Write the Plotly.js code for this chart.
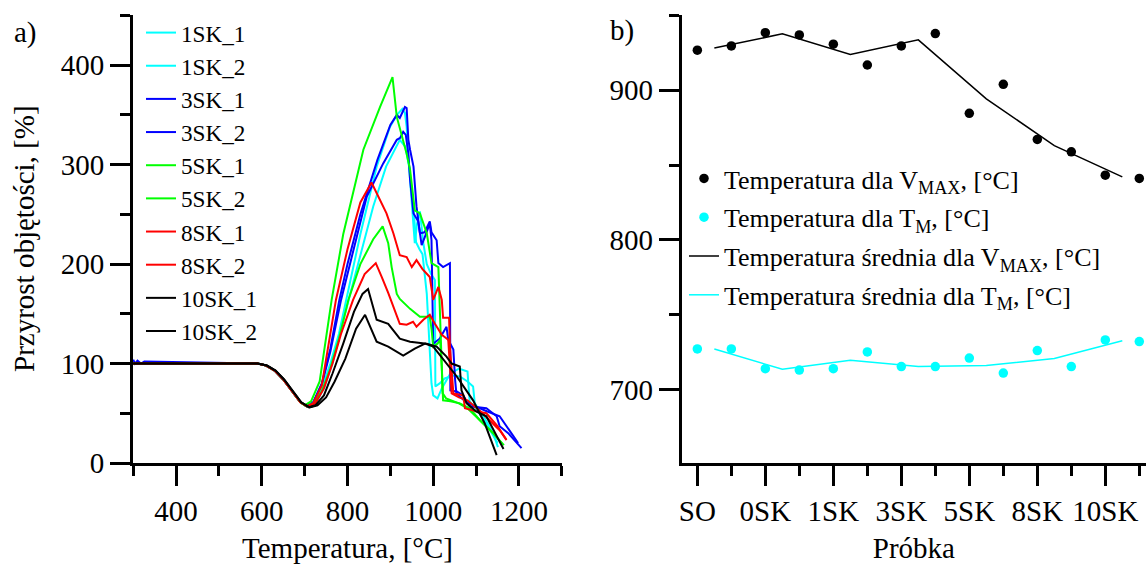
<!DOCTYPE html>
<html>
<head>
<meta charset="utf-8">
<script src="https://cdn.plot.ly/plotly-3.0.1.min.js"></script>
<style>html,body{margin:0;padding:0;background:#fff}</style>
</head>
<body>
<div id="chart" style="width:1146px;height:564px"></div>
<script>
// ---- a) volume growth vs temperature ----
const temp_1SK_1 = [300,590,610,630,650,670,690,705,720,740,760,780,800,830,868,899,915,928,934,938,942,950,957,962,969,977,985,995,1004,1005,1015,1027,1045,1062,1080,1093,1097,1120,1140,1151];
const grow_1SK_1 = [100,100,98,93,84,72,61,57,60,75,100,130,170,230,298,338,350,356,352,338,308,264,221,240,253,221,200,190,184,77,80,85,88,87,82,77,60,45,30,16];
const temp_1SK_2 = [300,590,610,630,650,670,690,708,725,745,765,785,800,830,860,890,922,935,945,955,960,968,975,985,992,996,1000,1010,1020,1040,1060,1080,1085,1100,1130,1150];
const grow_1SK_2 = [100,100,98,93,84,72,61,57,60,75,100,135,160,210,258,298,325,318,295,250,222,215,210,170,120,80,68,65,75,90,95,92,62,55,35,20];
const temp_3SK_1 = [300,304,310,318,326,590,610,630,650,670,690,705,720,740,760,781,800,830,870,900,915,922,928,934,938,942,946,954,961,969,980,992,996,1002,1008,1012,1023,1039,1040,1055,1070,1085,1105,1124,1148,1155,1175,1206];
const grow_3SK_1 = [104,100,103,100,102,100,98,93,84,72,61,57,61,80,115,164,200,250,305,340,350,347,352,358,357,325,315,298,258,231,232,243,232,228,224,201,197,201,73,72,68,57,56,55,47,37,30,15];
const temp_3SK_2 = [300,590,610,630,650,670,690,705,720,740,760,785,815,845,883,915,923,930,936,942,946,954,965,973,981,992,996,1000,1015,1031,1035,1047,1051,1054,1075,1093,1125,1155,1187,1198];
const grow_3SK_2 = [100,100,98,93,84,72,61,57,61,79,112,164,215,268,301,325,327,333,330,311,285,251,243,219,228,241,224,120,125,137,124,114,84,70,62,58,52,47,27,20];
const temp_5SK_1 = [300,590,610,630,650,670,690,700,715,735,763,790,810,837,876,895,905,915,930,938,946,957,969,985,996,1004,1012,1015,1018,1022,1030,1060,1080,1110,1140,1160];
const grow_5SK_1 = [100,100,98,93,84,72,61,58,62,82,164,230,265,315,358,378,388,348,325,311,295,254,251,231,201,199,197,160,110,70,65,60,55,43,30,20];
const temp_5SK_2 = [300,590,610,630,650,670,690,705,720,740,760,780,802,830,860,882,895,903,915,922,946,969,992,996,1000,1010,1016,1020,1023,1040,1062,1085,1109,1135,1155,1165];
const grow_5SK_2 = [100,100,98,93,84,72,61,57,60,72,95,125,164,200,225,238,221,197,170,165,155,147,147,135,117,120,124,97,63,62,60,55,43,32,23,18];
const temp_8SK_1 = [300,590,610,630,650,670,690,705,720,740,760,773,800,830,856,872,891,907,922,938,950,961,975,992,1000,1012,1020,1023,1037,1039,1047,1070,1074,1100,1124,1150,1171];
const grow_8SK_1 = [100,100,98,93,84,72,61,57,60,78,130,164,215,262,282,268,251,231,209,207,197,204,195,187,164,177,164,146,146,117,70,68,55,52,50,37,23];
const temp_8SK_2 = [300,590,610,630,650,670,690,708,725,745,765,785,813,840,866,880,895,922,938,953,961,977,992,1004,1020,1035,1039,1043,1060,1080,1110,1140,1155,1170];
const grow_8SK_2 = [100,100,98,93,84,72,61,57,60,75,100,130,164,190,201,187,171,140,139,142,137,144,149,140,129,124,97,70,66,63,52,40,33,24];
const temp_10SK_1 = [300,590,612,632,652,672,692,710,725,745,765,790,815,835,848,868,895,922,946,985,1008,1031,1043,1062,1066,1078,1100,1124,1145,1164];
const grow_10SK_1 = [100,100,98,93,84,72,61,56,58,68,90,120,152,170,175,144,140,125,122,120,117,107,100,97,73,60,52,47,30,14];
const temp_10SK_2 = [300,590,612,632,652,672,692,712,730,750,770,795,820,841,868,895,930,957,981,1000,1023,1055,1093,1120,1148];
const grow_10SK_2 = [100,100,98,93,84,72,61,56,58,66,82,105,135,149,122,117,108,115,120,117,104,87,63,40,8];

const curveNames = ['1SK_1','1SK_2','3SK_1','3SK_2','5SK_1','5SK_2','8SK_1','8SK_2','10SK_1','10SK_2'];
const curveTemps = [temp_1SK_1,temp_1SK_2,temp_3SK_1,temp_3SK_2,temp_5SK_1,temp_5SK_2,temp_8SK_1,temp_8SK_2,temp_10SK_1,temp_10SK_2];
const curveGrowth = [grow_1SK_1,grow_1SK_2,grow_3SK_1,grow_3SK_2,grow_5SK_1,grow_5SK_2,grow_8SK_1,grow_8SK_2,grow_10SK_1,grow_10SK_2];
const curveColors = ['#00FFFF','#00FFFF','#0000FF','#0000FF','#00FF00','#00FF00','#FF0000','#FF0000','#000000','#000000'];

// ---- b) characteristic temperatures per sample (two measurements each) ----
const sampleLabels = ['SO','0SK','1SK','3SK','5SK','8SK','10SK'];
const sampleTickPos = [1,3,5,7,9,11,13];
const measNo = [1,2,3,4,5,6,7,8,9,10,11,12,13,14];
const tempVmax = [926.8,929.6,938.5,937.0,930.8,916.9,929.6,937.9,884.6,904.0,867.2,858.9,843.3,841.1];
const tempTm = [727.2,727.2,714.0,713.1,714.0,725.2,715.4,715.4,721.1,711.1,726.1,715.4,733.2,732.1];
const meanPos = [1.5,3.5,5.5,7.5,9.5,11.5,13.5];
const meanVmax = [928.2,937.7,923.9,933.7,894.3,863.0,842.2];
const meanTm = [727.2,713.6,719.6,715.4,716.1,720.8,732.7];

const FONT = 'Liberation Serif, Times New Roman, serif';

const traces = [];
curveNames.forEach((n, i) => {
  traces.push({
    type: 'scatter', mode: 'lines', name: n,
    x: curveTemps[i], y: curveGrowth[i],
    xaxis: 'x', yaxis: 'y', legend: 'legend',
    line: {color: curveColors[i], width: 2}
  });
});
const rightSeries = [
  {name: 'Temperatura dla V<sub>MAX</sub>, [°C]', x: measNo, y: tempVmax, mode: 'markers', color: '#000000'},
  {name: 'Temperatura dla T<sub>M</sub>, [°C]', x: measNo, y: tempTm, mode: 'markers', color: '#00FFFF'},
  {name: 'Temperatura średnia dla V<sub>MAX</sub>, [°C]', x: meanPos, y: meanVmax, mode: 'lines', color: '#000000'},
  {name: 'Temperatura średnia dla T<sub>M</sub>, [°C]', x: meanPos, y: meanTm, mode: 'lines', color: '#00FFFF'}
];
rightSeries.forEach((s, i) => {
  traces.push({
    type: 'scatter', mode: s.mode, name: s.name, x: s.x, y: s.y,
    xaxis: 'x2', yaxis: 'y2', legend: 'legend2', legendgroup: 'g' + i,
    marker: {color: s.color, size: 9.5},
    line: {color: s.color, width: 1.5}
  });
});

const axisBase = {
  showline: true, linecolor: '#000', linewidth: 3,
  ticks: 'outside', ticklen: 20, tickwidth: 3, tickcolor: '#000',
  showgrid: false, zeroline: false, automargin: false, tickangle: 0,
  tickfont: {family: FONT, size: 29, color: '#000'}
};
const minorBase = {ticklen: 10, tickwidth: 3, tickcolor: '#000', ticks: 'outside', showgrid: false};

const layout = {
  width: 1146, height: 564,
  margin: {l: 133, r: 0, t: 15, b: 101, autoexpand: false},
  paper_bgcolor: '#fff', plot_bgcolor: '#fff',
  font: {family: FONT, color: '#000'},
  showlegend: true,
  xaxis: Object.assign({}, axisBase, {
    domain: [0, 0.4235], range: [299.5, 1300.5],
    tick0: 400, dtick: 200,
    minor: Object.assign({dtick: 100}, minorBase),
    title: {text: 'Temperatura, [°C]', font: {family: FONT, size: 29}, standoff: 14},
    anchor: 'y'
  }),
  yaxis: Object.assign({}, axisBase, {
    domain: [0, 1], range: [0, 450.5],
    tick0: 0, dtick: 100,
    minor: Object.assign({dtick: 50}, minorBase),
    anchor: 'x'
  }),
  xaxis2: Object.assign({}, axisBase, {
    domain: [0.5417, 1], range: [0.541, 14.197],
    tickmode: 'array', tickvals: sampleTickPos, ticktext: sampleLabels,
    minor: Object.assign({tickmode: 'linear', tick0: 0, dtick: 1}, minorBase),
    title: {text: 'Próbka', font: {family: FONT, size: 29}, standoff: 14},
    anchor: 'y2'
  }),
  yaxis2: Object.assign({}, axisBase, {
    domain: [0, 1], range: [651, 950.3],
    tick0: 700, dtick: 100,
    minor: Object.assign({tick0: 650, dtick: 50}, minorBase),
    anchor: 'x2'
  }),
  legend: {
    xref: 'container', yref: 'container',
    x: 141 / 1146, y: 1 - 11 / 564, xanchor: 'left', yanchor: 'top',
    bgcolor: 'rgba(0,0,0,0)', borderwidth: 0, maxheight: 420,
    font: {family: FONT, size: 23.2, color: '#000'},
    itemwidth: 30, tracegroupgap: 0
  },
  legend2: {
    xref: 'container', yref: 'container',
    x: 684 / 1146, y: 1 - 155 / 564, xanchor: 'left', yanchor: 'top',
    bgcolor: 'rgba(0,0,0,0)', borderwidth: 0, maxheight: 300,
    font: {family: FONT, size: 26, color: '#000'},
    itemwidth: 30, tracegroupgap: 2
  },
  annotations: [
    {text: 'Przyrost objętości, [%]', xref: 'paper', yref: 'paper', x: -0.1076, y: 0.5,
     xanchor: 'center', yanchor: 'middle', textangle: -90,
     showarrow: false, font: {family: FONT, size: 29, color: '#000'}},
    {text: 'a)', xref: 'paper', yref: 'paper', x: -0.1194, y: 0.96, xanchor: 'left', yanchor: 'middle',
     showarrow: false, font: {family: FONT, size: 29, color: '#000'}},
    {text: 'b)', xref: 'paper', yref: 'paper', x: 0.469, y: 0.965, xanchor: 'left', yanchor: 'middle',
     showarrow: false, font: {family: FONT, size: 29, color: '#000'}}
  ]
};

Plotly.newPlot('chart', traces, layout, {displayModeBar: false, staticPlot: true});
</script>
</body>
</html>
